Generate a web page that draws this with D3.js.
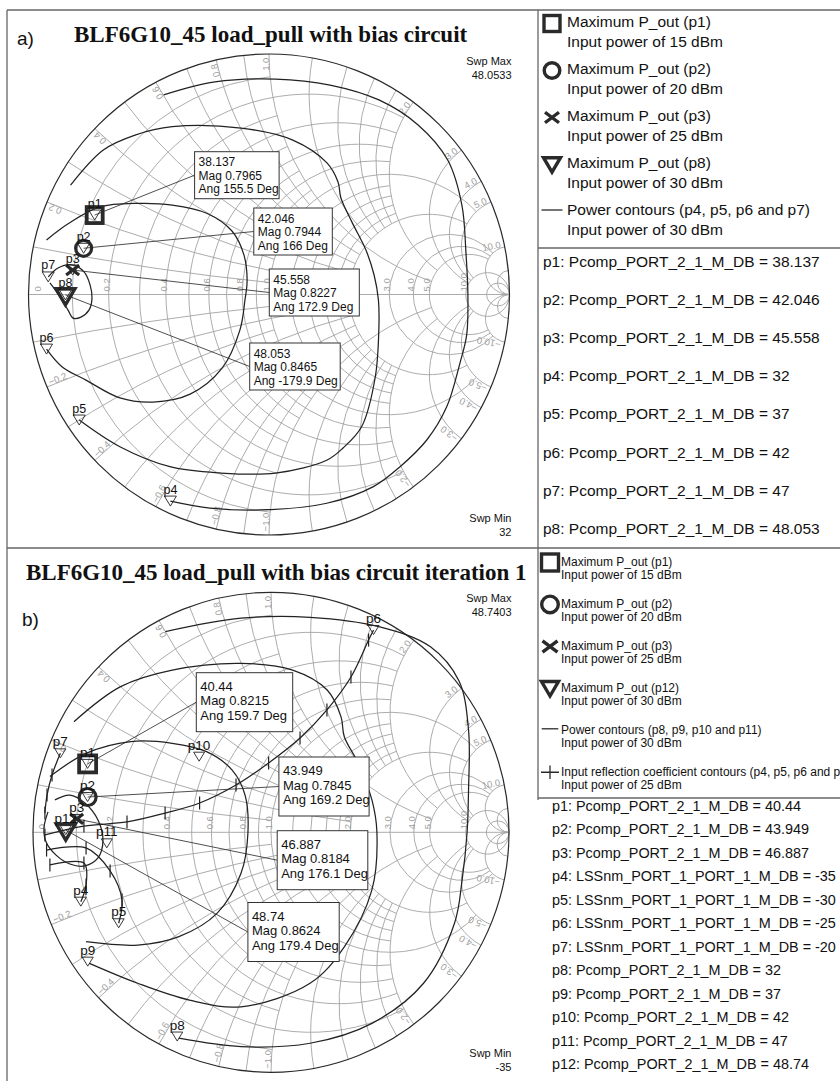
<!DOCTYPE html>
<meta charset="utf-8">
<style>
  body { margin: 0; background: #fff; }
  svg { display: block; }
  .grid { fill: none; stroke: #a3a3a3; stroke-width: 0.9; }
  .glab { font: 9.5px "Liberation Sans", sans-serif; fill: #a0a0a0; }
  .rim { fill: none; stroke: #2a2a2a; stroke-width: 1.2; }
  .contour { fill: none; stroke: #222; stroke-width: 1.25; }
  .tick { stroke: #222; stroke-width: 1.2; }
  .leader { stroke: #222; stroke-width: 0.8; }
  .box rect { fill: #fff; stroke: #333; stroke-width: 1; }
  .box text { fill: #111; font-family: "Liberation Sans", sans-serif; }
  .mk { fill: none; stroke: #222; stroke-width: 0.9; }
  .mlab { font-family: "Liberation Sans", sans-serif; fill: #111; }
  .sym { fill: none; stroke: #2a2a2a; }
  .swp { font: 11px "Liberation Sans", sans-serif; fill: #111; text-anchor: end; }
  .leg { font-family: "Liberation Sans", sans-serif; fill: #111; }
  .title { font: bold 23px "Liberation Serif", serif; fill: #111; }
  .tag { font: 19px "Liberation Sans", sans-serif; fill: #111; }
  .frame { fill: none; stroke: #666; stroke-width: 1.3; }
</style>
<script src="https://d3js.org/d3.v7.min.js"></script>
<svg width="840" height="1081"></svg>
<script>
// ---------- data, chart a ----------
const aMaxNames = ["p1", "p2", "p3", "p8"];
const aMaxPout = [38.137, 42.046, 45.558, 48.053];
const aMaxMag = [0.7965, 0.7944, 0.8227, 0.8465];
const aMaxAng = [155.5, 166, 172.9, -179.9];

const aPowNames = ["p4", "p5", "p6", "p7"];
const aPowLevels = [32, 37, 42, 47];
// contour points as reflection coefficient [re, im]
const aPow32 = [[-0.438,0.830],[-0.225,0.884],[0.027,0.896],[0.254,0.871],[0.457,0.809],[0.620,0.705],[0.743,0.559],[0.802,0.372],[0.819,0.173],[0.827,0.002],[0.822,-0.168],[0.794,-0.285],[0.739,-0.467],[0.656,-0.605],[0.545,-0.716],[0.434,-0.799],[0.240,-0.868],[-0.037,-0.896],[-0.245,-0.888],[-0.410,-0.859]];
const aPow37 = [[-0.825,0.455],[-0.689,0.601],[-0.557,0.663],[-0.402,0.698],[-0.116,0.692],[0.099,0.642],[0.241,0.547],[0.287,0.468],[0.299,0.401],[0.345,0.301],[0.403,0.185],[0.437,0.081],[0.455,-0.023],[0.457,-0.135],[0.442,-0.342],[0.385,-0.550],[0.308,-0.638],[0.242,-0.688],[0.027,-0.743],[-0.204,-0.742],[-0.412,-0.716],[-0.620,-0.633],[-0.789,-0.522]];
const aPow42 = [[-0.925,0.227],[-0.832,0.296],[-0.703,0.364],[-0.546,0.379],[-0.402,0.372],[-0.259,0.338],[-0.154,0.264],[-0.104,0.164],[-0.091,0.060],[-0.100,-0.023],[-0.121,-0.148],[-0.195,-0.306],[-0.328,-0.414],[-0.482,-0.447],[-0.620,-0.430],[-0.761,-0.356],[-0.861,-0.300],[-0.925,-0.227]];
const aPow47 = [[-0.918,0.073],[-0.877,0.110],[-0.819,0.123],[-0.769,0.094],[-0.744,0.040],[-0.736,-0.015],[-0.748,-0.064],[-0.782,-0.094],[-0.815,-0.098],[-0.836,-0.064],[-0.861,-0.023],[-0.886,0.015],[-0.911,0.048]];
const aPowMarks = [[-0.410,-0.859],[-0.789,-0.522],[-0.925,-0.227],[-0.918,0.073]];
const aSwp = ["48.0533", "32"];

// ---------- data, chart b ----------
const bMaxNames = ["p1", "p2", "p3", "p12"];
const bMaxPout = [40.44, 43.949, 46.887, 48.74];
const bMaxMag = [0.8215, 0.7845, 0.8184, 0.8624];
const bMaxAng = [159.7, 169.2, 176.1, 179.4];

const bPowNames = ["p8", "p9", "p10", "p11"];
const bPowLevels = [32, 37, 42, 47];
const bPow32 = [[-0.444,0.836],[-0.126,0.892],[0.164,0.896],[0.453,0.857],[0.670,0.773],[0.790,0.630],[0.830,0.426],[0.830,0.176],[0.824,0.001],[0.803,-0.199],[0.771,-0.379],[0.641,-0.629],[0.424,-0.796],[0.164,-0.879],[-0.126,-0.893],[-0.387,-0.858]];
const bPow37 = [[-0.828,0.461],[-0.632,0.607],[-0.415,0.676],[-0.126,0.704],[0.091,0.676],[0.236,0.593],[0.294,0.482],[0.308,0.398],[0.366,0.288],[0.424,0.135],[0.445,0.001],[0.424,-0.240],[0.308,-0.477],[0.164,-0.629],[-0.126,-0.727],[-0.343,-0.699],[-0.560,-0.629],[-0.763,-0.546]];
const bPow42 = [[-0.929,0.232],[-0.777,0.329],[-0.589,0.378],[-0.415,0.371],[-0.271,0.336],[-0.164,0.260],[-0.109,0.155],[-0.097,-0.004],[-0.126,-0.171],[-0.227,-0.338],[-0.387,-0.435],[-0.560,-0.470],[-0.777,-0.456]];
const bPow47 = [[-0.908,0.135],[-0.845,0.155],[-0.782,0.122],[-0.727,0.051],[-0.706,-0.032],[-0.727,-0.107],[-0.782,-0.140],[-0.845,-0.132],[-0.903,-0.095],[-0.945,-0.040],[-0.954,0.018],[-0.937,0.085]];
const bPowMarks = [[-0.394,-0.851],[-0.770,-0.539],[-0.302,0.315],[-0.690,-0.046]];

const bReflNames = ["p4", "p5", "p6", "p7"];
const bReflLevels = [-35, -30, -25, -20];
const bRefl35 = [[-0.799,-0.289],[-0.777,-0.220],[-0.786,-0.128],[-0.929,-0.136]];
const bRefl30 = [[-0.640,-0.379],[-0.626,-0.282],[-0.676,-0.161],[-0.777,-0.065],[-0.943,-0.074]];
const bRefl25 = [[0.431,0.843],[0.410,0.801],[0.336,0.647],[0.235,0.510],[0.122,0.393],[-0.010,0.289],[-0.147,0.197],[-0.300,0.122],[-0.445,0.080],[-0.605,0.043],[-0.786,0.026],[-0.950,-0.011]];
const bRefl20 = [[-0.885,0.329],[-0.920,0.239],[-0.941,0.155],[-0.950,0.080]];
const bReflMarks = [[-0.799,-0.289],[-0.640,-0.379],[0.431,0.843],[-0.885,0.329]];
const bSwp = ["48.7403", "-35"];

// ---------- Smith grid ----------
const gridR = [0.1,0.2,0.3,0.4,0.5,0.6,0.7,0.8,0.9,1,1.2,1.4,1.6,1.8,2,3,4,5,10,20];
const gridRLim = [1,2,1,2,1,2,1,2,1,5,2,2,2,2,5,10,10,10,Infinity,Infinity];
const labR = [0.2,0.4,0.6,0.8,1,2,3,4,5,10];

// ---------- legends ----------
const aLegSyms = ["square","circle","cross","triangle","line"];
const aLegHead = ["Maximum P_out (p1)","Maximum P_out (p2)","Maximum P_out (p3)","Maximum P_out (p8)","Power contours (p4, p5, p6 and p7)"];
const aLegSub = ["Input power of 15 dBm","Input power of 20 dBm","Input power of 25 dBm","Input power of 30 dBm","Input power of 30 dBm"];
const bLegSyms = ["square","circle","cross","triangle","line","plus"];
const bLegHead = ["Maximum P_out (p1)","Maximum P_out (p2)","Maximum P_out (p3)","Maximum P_out (p12)","Power contours (p8, p9, p10 and p11)","Input reflection coefficient contours (p4, p5, p6 and p7)"];
const bLegSub = ["Input power of 15 dBm","Input power of 20 dBm","Input power of 25 dBm","Input power of 30 dBm","Input power of 30 dBm","Input power of 25 dBm"];

const svg = d3.select("svg");
const fmt1 = d3.format(".1f");

function gam(r, v) {
  const d = (r + 1) * (r + 1) + v * v;
  return [(r * r + v * v - 1) / d, 2 * v / d];
}

function drawSym(g, type, cx, cy, k, sw) {
  const s = g.append("g").attr("class", "sym").style("stroke-width", sw);
  if (type === "square") s.append("rect").attr("x", cx - k).attr("y", cy - k).attr("width", 2 * k).attr("height", 2 * k);
  else if (type === "circle") s.append("circle").attr("cx", cx).attr("cy", cy).attr("r", k);
  else if (type === "cross") s.append("path").attr("d", `M${cx-k},${cy-k*0.75}L${cx+k},${cy+k*0.75}M${cx-k},${cy+k*0.75}L${cx+k},${cy-k*0.75}`);
  else if (type === "triangle") s.append("path").attr("d", `M${cx-k},${cy-k*0.8}L${cx+k},${cy-k*0.8}L${cx},${cy+k*0.9}Z`);
  else if (type === "line") s.append("path").attr("d", `M${cx-k},${cy}H${cx+k}`).style("stroke-width", 1.3);
  else if (type === "plus") s.append("path").attr("d", `M${cx-k},${cy}H${cx+k}M${cx},${cy-k*0.75}V${cy+k*0.75}`).style("stroke-width", 1.3);
}

function drawChart(o) {
  const g = svg.append("g");
  const x = d3.scaleLinear().domain([-1, 1]).range([o.cx - o.rx, o.cx + o.rx]);
  const y = d3.scaleLinear().domain([-1, 1]).range([o.cy + o.ry, o.cy - o.ry]);
  const kx = o.rx, ky = o.ry;

  // resistance circles
  const rPath = (r, lim) => {
    const rad = 1 / (r + 1), c = r / (r + 1);
    if (!isFinite(lim)) {
      return `M${x(c - rad)},${y(0)}A${rad*kx},${rad*ky} 0 1 0 ${x(c + rad)},${y(0)}A${rad*kx},${rad*ky} 0 1 0 ${x(c - rad)},${y(0)}`;
    }
    const p = gam(r, lim), q = gam(r, -lim);
    return `M${x(p[0])},${y(p[1])}A${rad*kx},${rad*ky} 0 ${p[0] > c ? 1 : 0} 0 ${x(q[0])},${y(q[1])}`;
  };
  // reactance arcs
  const xPath = (v, lim) => {
    const rad = 1 / Math.abs(v);
    const p = gam(0, v), q = isFinite(lim) ? gam(lim, v) : [1, 0];
    return `M${x(p[0])},${y(p[1])}A${rad*kx},${rad*ky} 0 0 ${v > 0 ? 0 : 1} ${x(q[0])},${y(q[1])}`;
  };
  const grid = g.append("g");
  gridR.forEach((r, i) => {
    grid.append("path").attr("class", "grid").attr("d", rPath(r, gridRLim[i]));
    grid.append("path").attr("class", "grid").attr("d", xPath(r, gridRLim[i]));
    grid.append("path").attr("class", "grid").attr("d", xPath(-r, gridRLim[i]));
  });
  grid.append("line").attr("class", "grid").attr("x1", x(-1)).attr("x2", x(1)).attr("y1", y(0)).attr("y2", y(0));

  // grid labels
  const gl = g.append("g");
  gl.append("text").attr("class", "glab").attr("transform", `translate(${x(-1) + 12},${y(0) - 3}) rotate(-90)`).text("0");
  labR.forEach(r => {
    const gx = x((r - 1) / (r + 1)) + 1;
    gl.append("text").attr("class", "glab").attr("transform", `translate(${gx},${y(0) - 3}) rotate(-90)`).text(fmt1(r));
    [r, -r].forEach(v => {
      const th = Math.PI - 2 * Math.atan(v);
      const ang = -th * 180 / Math.PI;
      const px = x(Math.cos(th) * 0.985), py = y(Math.sin(th) * 0.985);
      gl.append("text").attr("class", "glab").attr("text-anchor", v > 0 ? "end" : "start")
        .attr("transform", `translate(${px},${py}) rotate(${v > 0 ? ang : ang + 180})`).text(fmt1(v));
    });
  });

  g.append("ellipse").attr("class", "rim").attr("cx", x(0)).attr("cy", y(0)).attr("rx", kx).attr("ry", ky);

  // contours
  const line = d3.line().x(d => x(d[0])).y(d => y(d[1])).curve(d3.curveCatmullRom.alpha(0.5));
  o.contours.forEach(c => {
    g.append("path").attr("class", "contour").attr("d", line(c.pts));
    (c.ticks || []).forEach(t => {
      g.append("line").attr("class", "tick").attr("x1", x(t[0])).attr("x2", x(t[0]))
        .attr("y1", y(t[1]) - 6.5).attr("y2", y(t[1]) + 6.5);
    });
  });

  // maximum output power points
  const pts = o.maxMag.map((m, i) => {
    const a = o.maxAng[i] * Math.PI / 180;
    return [m * Math.cos(a), m * Math.sin(a)];
  });

  // annotation boxes and leaders
  o.boxes.forEach((b, i) => {
    const ym = b[1] + o.boxH / 2;
    g.append("line").attr("class", "leader").attr("x1", x(pts[i][0])).attr("y1", y(pts[i][1])).attr("x2", b[0]).attr("y2", ym);
    const bg = g.append("g").attr("class", "box");
    bg.append("rect").attr("x", b[0]).attr("y", b[1]).attr("width", b[2]).attr("height", o.boxH);
    const lines = [String(o.maxPout[i]), "Mag " + o.maxMag[i], "Ang " + o.maxAng[i] + " Deg"];
    lines.forEach((s, j) => {
      bg.append("text").attr("x", b[0] + 4).attr("y", b[1] + o.boxY0 + j * o.boxDy)
        .style("font-size", o.boxFont + "px").text(s);
    });
  });

  // small AWR markers with labels
  const mark = (p, name) => {
    const px = x(p[0]), py = y(p[1]), w = o.mkW / 2, h = o.mkH / 2;
    g.append("path").attr("class", "mk").attr("d", `M${px-w},${py-h}L${px+w},${py-h}L${px},${py+h}Z`);
    g.append("text").attr("class", "mlab").attr("x", px).attr("y", py - h - 2.5).attr("text-anchor", "middle")
      .style("font-size", o.labFont + "px").text(name);
  };
  o.markSets.forEach(ms => ms.pts.forEach((p, i) => mark(p, ms.names[i])));
  pts.forEach((p, i) => {
    drawSym(g, ["square", "circle", "cross", "triangle"][i], x(p[0]), y(p[1]) + (i === 3 ? 1.5 : 0), o.symK[i], o.symW[i]);
    mark(p, o.maxNames[i]);
  });

  // sweep annotations
  g.append("text").attr("class", "swp").attr("x", o.swpX).attr("y", o.swpY[0]).text("Swp Max");
  g.append("text").attr("class", "swp").attr("x", o.swpX).attr("y", o.swpY[0] + 14).text(o.swp[0]);
  g.append("text").attr("class", "swp").attr("x", o.swpX).attr("y", o.swpY[1]).text("Swp Min");
  g.append("text").attr("class", "swp").attr("x", o.swpX).attr("y", o.swpY[1] + 14).text(o.swp[1]);
}

drawChart({
  cx: 269, cy: 294.5, rx: 240.5, ry: 240.5,
  contours: [{pts: aPow32}, {pts: aPow37}, {pts: aPow42}, {pts: aPow47}],
  maxNames: aMaxNames, maxPout: aMaxPout, maxMag: aMaxMag, maxAng: aMaxAng,
  boxes: [[194.6, 151.7, 84.5], [253.8, 208, 78.5], [269.3, 269, 90], [249.7, 343, 90.5]],
  boxH: 47, boxY0: 14.5, boxDy: 13.6, boxFont: 12,
  markSets: [{pts: aPowMarks, names: aPowNames}],
  mkW: 12, mkH: 10, labFont: 12.5,
  symK: [8, 8, 6.5, 9.5], symW: [3.8, 3.2, 3.2, 3.4],
  swp: aSwp, swpX: 511.5, swpY: [65, 522]
});

drawChart({
  cx: 271, cy: 832.3, rx: 238, ry: 240,
  contours: [{pts: bPow32}, {pts: bPow37}, {pts: bPow42}, {pts: bPow47},
    {pts: bRefl35, ticks: bRefl35.slice(1)}, {pts: bRefl30, ticks: bRefl30.slice(1)},
    {pts: bRefl25, ticks: bRefl25.slice(1)}, {pts: bRefl20, ticks: bRefl20.slice(1)}],
  maxNames: bMaxNames, maxPout: bMaxPout, maxMag: bMaxMag, maxAng: bMaxAng,
  boxes: [[196.3, 672.7, 96.4], [278.9, 757, 90.2], [277.2, 830.7, 90.6], [247.9, 902.5, 91.3]],
  boxH: 59, boxY0: 18, boxDy: 14.7, boxFont: 13,
  markSets: [{pts: bPowMarks, names: bPowNames}, {pts: bReflMarks, names: bReflNames}],
  mkW: 11, mkH: 9, labFont: 13.5,
  symK: [8.5, 8.5, 6.5, 9.5], symW: [3.8, 3.2, 3.2, 3.4],
  swp: bSwp, swpX: 511.5, swpY: [601.7, 1056.7]
});

// ---------- titles ----------
svg.append("text").attr("class", "tag").attr("x", 17).attr("y", 45).text("a)");
svg.append("text").attr("class", "title").attr("x", 74).attr("y", 41.7).text("BLF6G10_45 load_pull with bias circuit");
svg.append("text").attr("class", "title").attr("x", 26).attr("y", 580).text("BLF6G10_45 load_pull with bias circuit iteration 1");
svg.append("text").attr("class", "tag").attr("x", 22).attr("y", 626).text("b)");

// ---------- legends ----------
function legend(syms, heads, subs, o) {
  const g = svg.append("g");
  syms.forEach((s, i) => {
    const by = o.y0 + i * o.step;
    drawSym(g, s, o.sx, by - (s === "line" ? 5 : 3.5), o.k[i], o.sw);
    g.append("text").attr("class", "leg").attr("x", o.tx).attr("y", by).style("font-size", o.font + "px").text(heads[i]);
    g.append("text").attr("class", "leg").attr("x", o.tx).attr("y", by + o.sub).style("font-size", o.font + "px").text(subs[i]);
  });
}
legend(aLegSyms, aLegHead, aLegSub, {sx: 552, tx: 567, y0: 27, step: 47, sub: 19.8, font: 15.5, k: [8, 7.8, 7, 8.5, 10.5], sw: 3.4});
legend(bLegSyms, bLegHead, bLegSub, {sx: 550, tx: 561, y0: 566, step: 41.95, sub: 13.3, font: 12, k: [8.5, 8.3, 7.5, 8.5, 8.3, 9], sw: 3.4});

// value lists
const aList = aMaxNames.slice(0, 3).map((n, i) => `${n}: Pcomp_PORT_2_1_M_DB = ${aMaxPout[i]}`)
  .concat(aPowNames.map((n, i) => `${n}: Pcomp_PORT_2_1_M_DB = ${aPowLevels[i]}`))
  .concat([`${aMaxNames[3]}: Pcomp_PORT_2_1_M_DB = ${aMaxPout[3]}`]);
const bList = bMaxNames.slice(0, 3).map((n, i) => `${n}: Pcomp_PORT_2_1_M_DB = ${bMaxPout[i]}`)
  .concat(bReflNames.map((n, i) => `${n}: LSSnm_PORT_1_PORT_1_M_DB = ${bReflLevels[i]}`))
  .concat(bPowNames.map((n, i) => `${n}: Pcomp_PORT_2_1_M_DB = ${bPowLevels[i]}`))
  .concat([`${bMaxNames[3]}: Pcomp_PORT_2_1_M_DB = ${bMaxPout[3]}`]);
svg.append("g").selectAll("text").data(aList).join("text").attr("class", "leg")
  .attr("x", 543).attr("y", (d, i) => 267 + i * 38.1).style("font-size", "15.5px").text(d => d);
svg.append("g").selectAll("text").data(bList).join("text").attr("class", "leg")
  .attr("x", 552).attr("y", (d, i) => 811 + i * 23.45).style("font-size", "14.4px").text(d => d);

// ---------- frame ----------
const fr = svg.append("g");
[[7, 10, 7, 1081], [7, 10, 840, 10], [538, 10, 538, 800], [538, 248, 840, 248],
 [7, 548, 840, 548], [538, 798, 840, 798]].forEach(l => {
  fr.append("line").attr("class", "frame").attr("x1", l[0]).attr("y1", l[1]).attr("x2", l[2]).attr("y2", l[3]);
});
</script>
